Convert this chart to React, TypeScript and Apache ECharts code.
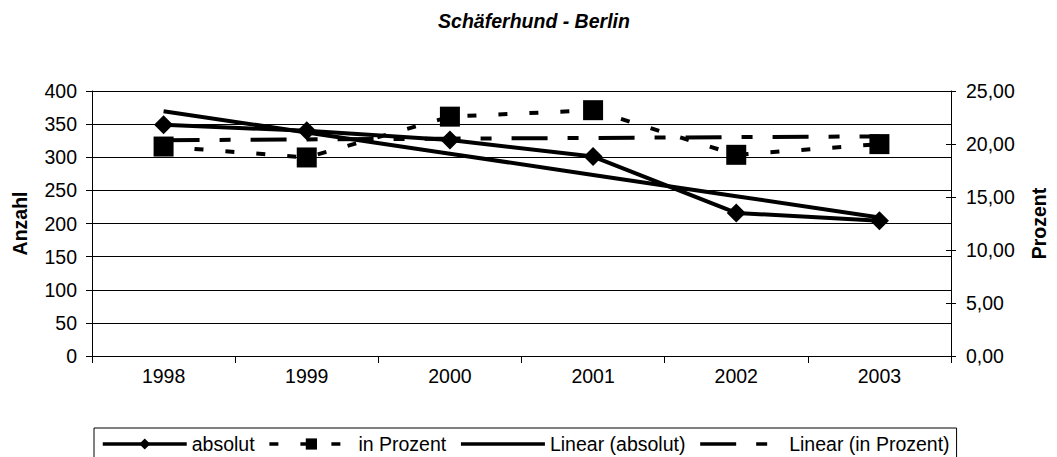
import React, { useEffect, useRef } from "react";
import * as echarts from "echarts";

const categories = ["1998", "1999", "2000", "2001", "2002", "2003"];
const absolut = [349, 340, 326, 301, 216, 204];
const inProzent = [19.76, 18.73, 22.58, 23.19, 18.98, 19.99];
const leftAxis = { min: 0, max: 400, interval: 50 };
const rightAxis = { min: 0, max: 25, interval: 5 };

// Linear trendline (least-squares fit, as Excel's "Linear" trendline)
function linearTrend(values: number[]): number[] {
  const n = values.length;
  const xs = values.map((_, i) => i);
  const mx = xs.reduce((a, b) => a + b, 0) / n;
  const my = values.reduce((a, b) => a + b, 0) / n;
  let sxy = 0;
  let sxx = 0;
  for (let i = 0; i < n; i++) {
    sxy += (xs[i] - mx) * (values[i] - my);
    sxx += (xs[i] - mx) * (xs[i] - mx);
  }
  const slope = sxy / sxx;
  const icpt = my - slope * mx;
  return xs.map((x) => +(icpt + slope * x).toFixed(3));
}

const FONT = "'Liberation Sans', Arial, sans-serif";
const FS = 19.5;

export default function App() {
  const ref = useRef<HTMLDivElement>(null);
  useEffect(() => {
    if (!ref.current) return;
    const chart = echarts.init(ref.current, null, { renderer: "svg" });
    const black = "#000";
    const hidden = { color: "rgba(0,0,0,0)", borderWidth: 0 };
    chart.setOption({
      animation: false,
      backgroundColor: "#fff",
      textStyle: { fontFamily: FONT, color: black },
      title: {
        text: "Schäferhund - Berlin",
        left: 529,
        top: 6,
        textAlign: "center",
        textStyle: { fontSize: FS, fontWeight: "bold", fontStyle: "italic", fontFamily: FONT, color: black },
      },
      grid: { left: 92, right: 99, top: 91, bottom: 101, containLabel: false },
      legend: {
        left: 94,
        top: 428,
        padding: [6, 7, 30, 7],
        itemGap: 13,
        itemWidth: 84,
        itemHeight: 14,
        borderColor: black,
        borderWidth: 1,
        lineStyle: { width: 3.5 },
        textStyle: { fontSize: FS, fontFamily: FONT, color: black },
        data: [
          "absolut",
          "in Prozent",
          { name: "Linear (absolut)", itemStyle: hidden },
          { name: "Linear (in Prozent)", itemStyle: hidden },
        ],
      },
      xAxis: {
        type: "category",
        data: categories,
        boundaryGap: true,
        axisLine: { lineStyle: { color: black, width: 1 } },
        axisTick: { show: true, length: 7, lineStyle: { color: black } },
        axisLabel: { fontSize: FS, fontFamily: FONT, color: black, margin: 10 },
        splitLine: { show: false },
      },
      yAxis: [
        {
          type: "value",
          position: "left",
          ...leftAxis,
          name: "Anzahl",
          nameLocation: "middle",
          nameRotate: 90,
          nameGap: 62,
          nameTextStyle: { fontSize: FS, fontWeight: "bold", fontFamily: FONT, color: black },
          axisLine: { show: true, lineStyle: { color: black, width: 1 } },
          axisTick: { show: true, length: 6, lineStyle: { color: black } },
          axisLabel: { fontSize: FS, fontFamily: FONT, color: black, margin: 15 },
          splitLine: { show: true, lineStyle: { color: black, width: 1 } },
        },
        {
          type: "value",
          position: "right",
          ...rightAxis,
          name: "Prozent",
          nameLocation: "middle",
          nameRotate: 90,
          nameGap: 78,
          nameTextStyle: { fontSize: FS, fontWeight: "bold", fontFamily: FONT, color: black },
          axisLine: { show: true, lineStyle: { color: black, width: 1 } },
          axisTick: { show: true, length: 5, lineStyle: { color: black } },
          axisLabel: {
            fontSize: FS,
            fontFamily: FONT,
            color: black,
            margin: 15,
            formatter: (v: number) => v.toFixed(2).replace(".", ","),
          },
          splitLine: { show: false },
        },
        {
          type: "value",
          position: "right",
          ...rightAxis,
          axisLine: { show: false },
          axisTick: { show: true, inside: true, length: 5, lineStyle: { color: black } },
          axisLabel: { show: false },
          splitLine: { show: false },
        },
      ],
      series: [
        {
          name: "absolut",
          type: "line",
          yAxisIndex: 0,
          data: absolut,
          symbol: "diamond",
          symbolSize: 19,
          itemStyle: { color: black },
          lineStyle: { color: black, width: 4, type: "solid" },
          z: 4,
        },
        {
          name: "in Prozent",
          type: "line",
          yAxisIndex: 1,
          data: inProzent,
          symbol: "rect",
          symbolSize: 20,
          itemStyle: { color: black },
          lineStyle: { color: black, width: 4, type: [9, 22] },
          z: 4,
        },
        {
          name: "Linear (absolut)",
          type: "line",
          yAxisIndex: 0,
          data: linearTrend(absolut),
          symbol: "none",
          itemStyle: { color: black },
          lineStyle: { color: black, width: 4, type: "solid" },
          z: 3,
        },
        {
          name: "Linear (in Prozent)",
          type: "line",
          yAxisIndex: 1,
          data: linearTrend(inProzent),
          symbol: "none",
          itemStyle: { color: black },
          lineStyle: { color: black, width: 4, type: [36, 20, 11, 20] },
          z: 3,
        },
      ],
    });
    return () => chart.dispose();
  }, []);
  return (
    <div
      ref={ref}
      style={{ position: "fixed", left: 0, top: 0, width: 1057, height: 457, background: "#fff" }}
    />
  );
}
